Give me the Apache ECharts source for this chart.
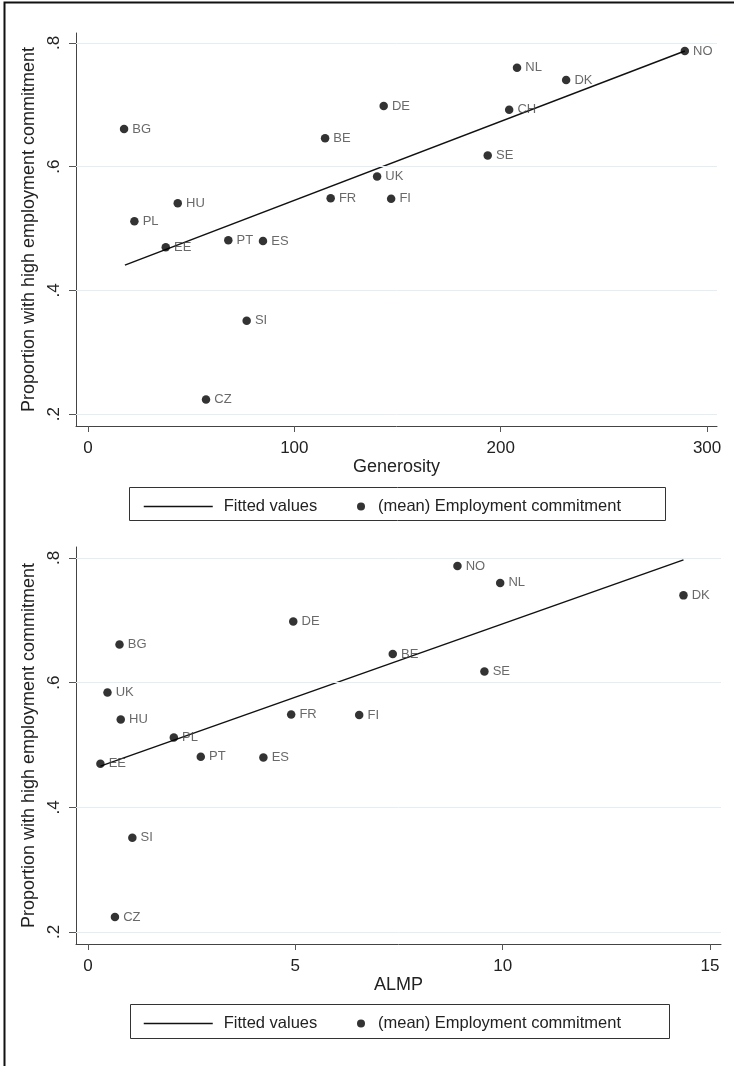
<!DOCTYPE html>
<html>
<head>
<meta charset="utf-8">
<script src="https://cdn.jsdelivr.net/npm/echarts@6/dist/echarts.min.js"></script>
<style>
  html, body { margin: 0; padding: 0; background: #fff; }
  #chart { width: 734px; height: 1066px; }
</style>
</head>
<body>
<div id="chart"></div>
<script>
// top panel: generosity
const countriesGen = ['NO', 'NL', 'DK', 'DE', 'CH', 'SE', 'UK', 'FI', 'BE', 'FR', 'BG', 'HU', 'PL', 'EE', 'PT', 'ES', 'SI', 'CZ']
const generosity = [289.2, 207.9, 231.7, 143.3, 204.1, 193.7, 140.1, 146.9, 114.9, 117.6, 17.5, 43.5, 22.5, 37.7, 68.0, 84.8, 76.9, 57.2]
const commitGen = [0.787, 0.760, 0.740, 0.698, 0.692, 0.618, 0.584, 0.548, 0.646, 0.549, 0.661, 0.541, 0.512, 0.470, 0.481, 0.480, 0.351, 0.224]
const fitGenX = [17.9, 289.2]
const fitGenY = [0.441, 0.787]

// bottom panel: ALMP (no CH)
const countriesAlmp = ['NO', 'NL', 'DK', 'DE', 'SE', 'UK', 'FI', 'BE', 'FR', 'BG', 'HU', 'PL', 'EE', 'PT', 'ES', 'SI', 'CZ']
const almp = [8.91, 9.94, 14.36, 4.95, 9.56, 0.47, 6.54, 7.35, 4.90, 0.76, 0.79, 2.07, 0.30, 2.72, 4.23, 1.07, 0.65]
const commitAlmp = [0.787, 0.760, 0.740, 0.698, 0.618, 0.584, 0.548, 0.646, 0.549, 0.661, 0.541, 0.512, 0.470, 0.481, 0.480, 0.351, 0.224]
const fitAlmpX = [0.3, 14.36]
const fitAlmpY = [0.466, 0.797]

// tick labels
const genTicks = [0, 100, 200, 300]
const almpTicks = [0, 5, 10, 15]
const yTicks = [0.2, 0.4, 0.6, 0.8]

const FONT = 'Liberation Sans, Arial, sans-serif'
const yTitle = 'Proportion with high employment commitment'
const fitName = 'Fitted values'
const dotName = '(mean) Employment commitment'

function makeX(idx, name, ticks, min, max) {
  return {
    type: 'value',
    gridIndex: idx,
    min: min,
    max: max,
    name: name,
    nameLocation: 'middle',
    nameGap: 30,
    nameTextStyle: { fontFamily: FONT, fontSize: 18, color: '#222' },
    axisLine: { onZero: false, lineStyle: { color: '#444', width: 1 } },
    axisTick: { show: true, length: 6, customValues: ticks, lineStyle: { color: '#555' } },
    axisLabel: { customValues: ticks, margin: 14, fontFamily: FONT, fontSize: 17, color: '#222' },
    splitLine: { show: false }
  }
}

function makeY(idx, min, max) {
  return {
    type: 'value',
    gridIndex: idx,
    min: min,
    max: max,
    name: yTitle,
    nameLocation: 'middle',
    nameGap: 30,
    nameTextStyle: { fontFamily: FONT, fontSize: 18, color: '#222' },
    axisLine: { show: true, onZero: false, lineStyle: { color: '#444', width: 1 } },
    axisTick: { show: true, length: 7, customValues: yTicks, lineStyle: { color: '#555' } },
    axisLabel: {
      customValues: yTicks,
      rotate: 90,
      margin: 13,
      fontFamily: FONT,
      fontSize: 17,
      color: '#222',
      formatter: v => String(Math.round(v * 10) / 10).replace(/^0/, '')
    },
    splitLine: { show: false }
  }
}

function makeSeries(idx, xs, ys, names, fx, fy) {
  const points = xs.map((x, i) => ({ name: names[i], value: [x, ys[i]] }))
  return [
    {
      name: fitName,
      type: 'line',
      xAxisIndex: idx,
      yAxisIndex: idx,
      data: fx.map((x, i) => [x, fy[i]]),
      symbol: 'none',
      itemStyle: { color: '#111' },
      lineStyle: { color: '#111', width: 1.5 },
      silent: true,
      z: 3
    },
    {
      name: dotName,
      type: 'scatter',
      xAxisIndex: idx,
      yAxisIndex: idx,
      data: points,
      symbolSize: 8.5,
      itemStyle: { color: '#000' },
      label: {
        show: true,
        position: 'right',
        distance: 4,
        formatter: p => p.name,
        fontFamily: FONT,
        fontSize: 13,
        color: '#444'
      },
      markLine: {
        silent: true,
        symbol: 'none',
        label: { show: false },
        lineStyle: { color: '#e4edf2', type: 'solid', width: 1 },
        data: yTicks.map(v => ({ yAxis: v }))
      },
      z: 4
    }
  ]
}

function makeLegends(boxTop) {
  return [
    {
      data: [fitName],
      left: 138,
      top: boxTop + 6,
      itemWidth: 69,
      itemHeight: 14,
      selectedMode: false,
      // hide the symbol drawn in the middle of the line icon
      itemStyle: { color: 'rgba(0,0,0,0)', borderWidth: 0, opacity: 0 },
      lineStyle: { color: '#111', width: 1.5 },
      textStyle: { fontFamily: FONT, fontSize: 16.5, color: '#222', padding: [0, 0, 0, 6] }
    },
    {
      data: [{ name: dotName, icon: 'circle' }],
      left: 352,
      top: boxTop + 6,
      itemWidth: 8,
      itemHeight: 8,
      selectedMode: false,
      textStyle: { fontFamily: FONT, fontSize: 16.5, color: '#222', padding: [0, 0, 0, 8] }
    }
  ]
}

const option = {
  animation: false,
  backgroundColor: '#fff',
  grid: [
    { left: 76, top: 33, width: 641, height: 393 },
    { left: 76, top: 547, width: 645, height: 397 }
  ],
  xAxis: [
    makeX(0, 'Generosity', genTicks, -5.8, 304.8),
    makeX(1, 'ALMP', almpTicks, -0.289, 15.265)
  ],
  yAxis: [
    makeY(0, 0.181, 0.816),
    makeY(1, 0.1807, 0.8176)
  ],
  legend: makeLegends(487).concat(makeLegends(1004)),
  series: makeSeries(0, generosity, commitGen, countriesGen, fitGenX, fitGenY)
    .concat(makeSeries(1, almp, commitAlmp, countriesAlmp, fitAlmpX, fitAlmpY)),
  graphic: [
    // outer frame (left and top edges)
    {
      type: 'polyline',
      shape: { points: [[4.5, 1066], [4.5, 2.5], [734, 2.5]] },
      style: { stroke: '#111', lineWidth: 2, fill: null }
    },
    // legend boxes
    {
      type: 'rect',
      shape: { x: 129.5, y: 487.5, width: 536, height: 33 },
      style: { stroke: '#333', lineWidth: 1, fill: null }
    },
    {
      type: 'rect',
      shape: { x: 130.5, y: 1004.5, width: 539, height: 34 },
      style: { stroke: '#333', lineWidth: 1, fill: null }
    }
  ]
}

const myChart = echarts.init(document.getElementById('chart'))
myChart.setOption(option)
</script>
</body>
</html>
